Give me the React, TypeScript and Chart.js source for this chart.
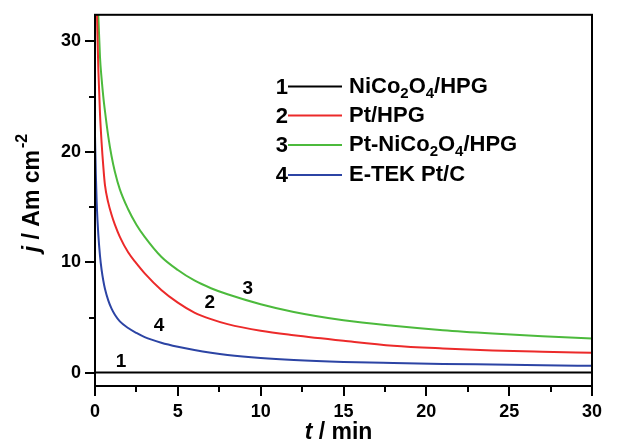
import React, { useEffect, useRef } from "react";
import { Chart, registerables } from "chart.js";

Chart.register(...registerables);

// ---- data ----
const timeMin = [0, 0.05, 0.1, 0.15, 0.2, 0.3, 0.4, 0.5, 0.6, 0.8, 1.0, 1.2, 1.5, 2, 2.5, 3, 4, 5, 6, 7, 8, 10, 12, 15, 18, 21, 24, 27, 30];
const niCo2O4HPG = [0.03, 0.03, 0.03, 0.03, 0.03, 0.03, 0.03, 0.03, 0.03, 0.03, 0.03, 0.03, 0.03, 0.03, 0.03, 0.03, 0.03, 0.03, 0.03, 0.03, 0.03, 0.03, 0.03, 0.03, 0.03, 0.03, 0.03, 0.03, 0.03];
const ptHPG = [48, 40, 34, 30.5, 27.5, 23.5, 20.8, 18.7, 17.0, 15.4, 14.3, 13.4, 12.3, 10.9, 9.9, 9.0, 7.5, 6.35, 5.45, 4.85, 4.4, 3.8, 3.4, 2.9, 2.45, 2.2, 2.02, 1.9, 1.8];
const ptNiCo2O4HPG = [52, 44, 38, 34.8, 32.3, 28.6, 26.6, 25.0, 23.7, 21.4, 19.6, 18.2, 16.6, 14.8, 13.4, 12.3, 10.5, 9.3, 8.35, 7.65, 7.1, 6.2, 5.5, 4.75, 4.25, 3.85, 3.55, 3.3, 3.1];
const etekPtC = [21.5, 18.0, 15.5, 13.8, 12.5, 10.6, 9.3, 8.35, 7.6, 6.55, 5.8, 5.25, 4.65, 4.05, 3.6, 3.22, 2.72, 2.35, 2.05, 1.8, 1.6, 1.33, 1.15, 0.98, 0.88, 0.8, 0.74, 0.68, 0.63];

const seriesLabels = ["NiCo2O4/HPG", "Pt/HPG", "Pt-NiCo2O4/HPG", "E-TEK Pt/C"];
const seriesNumbers = ["1", "2", "3", "4"];
const seriesColors = ["#000000", "#ec2a2a", "#4cba3c", "#2c44a4"];

const xMajorTicks = [0, 5, 10, 15, 20, 25, 30];
const xMinorTicks = [2.5, 7.5, 12.5, 17.5, 22.5, 27.5];
const yMajorTicks = [0, 10, 20, 30];
const yMinorTicks = [5, 15, 25];

// curve number annotations (data units)
const curveLabelT = [1.57, 6.93, 9.22, 3.86];
const curveLabelJ = [0.99, 6.29, 7.64, 4.22];

const FONT = "'Liberation Sans', Arial, Helvetica, sans-serif";

function drawRich(ctx: CanvasRenderingContext2D, text: string, x: number, y: number, size: number) {
  // digits following a letter are drawn as subscripts
  let cx = x;
  for (let i = 0; i < text.length; i++) {
    const ch = text[i];
    const isSub = /[0-9]/.test(ch) && i > 0 && /[A-Za-z]/.test(text[i - 1]);
    if (isSub) {
      ctx.font = `bold ${Math.round(size * 0.68)}px ${FONT}`;
      ctx.fillText(ch, cx, y + size * 0.33);
    } else {
      ctx.font = `bold ${size}px ${FONT}`;
      ctx.fillText(ch, cx, y);
    }
    cx += ctx.measureText(ch).width;
  }
}

const decorPlugin = {
  id: "decor",
  afterDraw(chart: any) {
    const ctx: CanvasRenderingContext2D = chart.ctx;
    const { left, right, top, bottom } = chart.chartArea;
    const xs = chart.scales.x;
    const ys = chart.scales.y;
    ctx.save();
    // frame
    ctx.strokeStyle = "#000";
    ctx.lineWidth = 2;
    ctx.strokeRect(left, top, right - left, bottom - top);
    // major and minor ticks
    ctx.beginPath();
    xMajorTicks.forEach((v) => {
      const px = Math.round(xs.getPixelForValue(v));
      ctx.moveTo(px, bottom);
      ctx.lineTo(px, bottom + 10);
    });
    xMinorTicks.forEach((v) => {
      const px = Math.round(xs.getPixelForValue(v));
      ctx.moveTo(px, bottom);
      ctx.lineTo(px, bottom + 6);
    });
    yMajorTicks.forEach((v) => {
      const py = Math.round(ys.getPixelForValue(v));
      ctx.moveTo(left, py);
      ctx.lineTo(left - 10, py);
    });
    yMinorTicks.forEach((v) => {
      const py = Math.round(ys.getPixelForValue(v));
      ctx.moveTo(left, py);
      ctx.lineTo(left - 6, py);
    });
    ctx.stroke();

    ctx.fillStyle = "#000";
    // x title
    ctx.textBaseline = "middle";
    ctx.textAlign = "left";
    const tSize = 23;
    ctx.font = `italic bold ${tSize}px ${FONT}`;
    const w1 = ctx.measureText("t").width;
    ctx.font = `bold ${tSize}px ${FONT}`;
    const w2 = ctx.measureText(" / min").width;
    const sx = (left + right) / 2 - 5 - (w1 + w2) / 2;
    const ty = 433;
    ctx.font = `italic bold ${tSize}px ${FONT}`;
    ctx.fillText("t", sx, ty);
    ctx.font = `bold ${tSize}px ${FONT}`;
    ctx.fillText(" / min", sx + w1, ty);

    // y title
    ctx.save();
    ctx.translate(33, 193);
    ctx.rotate(-Math.PI / 2);
    ctx.font = `italic bold ${tSize}px ${FONT}`;
    const a1 = ctx.measureText("j").width;
    ctx.font = `bold ${tSize}px ${FONT}`;
    const a2 = ctx.measureText(" / Am cm").width;
    ctx.font = `bold 16px ${FONT}`;
    const a3 = ctx.measureText("-2").width + 2;
    const yx = -(a1 + a2 + a3) / 2;
    ctx.font = `italic bold ${tSize}px ${FONT}`;
    ctx.fillText("j", yx, 0);
    ctx.font = `bold ${tSize}px ${FONT}`;
    ctx.fillText(" / Am cm", yx + a1, 0);
    ctx.font = `bold 16px ${FONT}`;
    ctx.fillText("-2", yx + a1 + a2 + 2, -10);
    ctx.restore();

    // legend
    const rows = [86.5, 115.5, 145, 175];
    seriesLabels.forEach((lab, i) => {
      const y = rows[i];
      ctx.font = `bold 22px ${FONT}`;
      ctx.textAlign = "right";
      ctx.textBaseline = "middle";
      ctx.fillText(seriesNumbers[i], 288, y + 1);
      ctx.strokeStyle = seriesColors[i];
      ctx.lineWidth = 2;
      ctx.beginPath();
      ctx.moveTo(288, y);
      ctx.lineTo(342, y);
      ctx.stroke();
      ctx.textAlign = "left";
      drawRich(ctx, lab, 349, y, 22);
    });

    // curve number labels
    ctx.font = `bold 19px ${FONT}`;
    ctx.textAlign = "center";
    ctx.textBaseline = "middle";
    curveLabelT.forEach((t, i) => {
      ctx.fillText(seriesNumbers[i], xs.getPixelForValue(t), ys.getPixelForValue(curveLabelJ[i]));
    });
    ctx.restore();
  },
};

export default function App() {
  const ref = useRef<HTMLCanvasElement | null>(null);
  useEffect(() => {
    const allSeries = [niCo2O4HPG, ptHPG, ptNiCo2O4HPG, etekPtC];
    const chart = new Chart(ref.current as HTMLCanvasElement, {
      type: "line",
      data: {
        datasets: allSeries.map((arr, i) => ({
          label: seriesLabels[i],
          data: timeMin.map((t, k) => ({ x: t, y: arr[k] })),
          borderColor: seriesColors[i],
          backgroundColor: seriesColors[i],
          borderWidth: 2,
          pointRadius: 0,
          fill: false,
          cubicInterpolationMode: "monotone",
        })),
      },
      options: {
        animation: false,
        responsive: false,
        devicePixelRatio: 1,
        layout: { padding: { top: 11, right: 38, left: 0, bottom: 0 } },
        plugins: {
          legend: { display: false },
          tooltip: { enabled: false },
          title: { display: false },
        },
        scales: {
          x: {
            type: "linear",
            min: 0,
            max: 30,
            afterBuildTicks: (s: any) => {
              s.ticks = xMajorTicks.map((v) => ({ value: v }));
            },
            afterFit: (s: any) => {
              s.height = 59;
            },
            grid: { drawOnChartArea: false, drawTicks: true, tickLength: 10, color: "#000", lineWidth: 2 },
            border: { display: true, color: "#000", width: 2 },
            ticks: {
              color: "#000",
              font: { family: FONT, size: 18, weight: "bold" },
              padding: 5,
              maxRotation: 0,
              autoSkip: false,
            },
          },
          y: {
            type: "linear",
            min: -1.2,
            max: 32.4,
            afterBuildTicks: (s: any) => {
              s.ticks = yMajorTicks.map((v) => ({ value: v }));
            },
            afterFit: (s: any) => {
              s.width = 95;
            },
            grid: { drawOnChartArea: false, drawTicks: true, tickLength: 10, color: "#000", lineWidth: 2 },
            border: { display: true, color: "#000", width: 2 },
            ticks: {
              color: "#000",
              font: { family: FONT, size: 18, weight: "bold" },
              padding: 4,
              autoSkip: false,
            },
          },
        },
      } as any,
      plugins: [decorPlugin],
    } as any);
    return () => chart.destroy();
  }, []);
  return (
    <div style={{ position: "fixed", left: 0, top: 0, width: 630, height: 445, background: "#fff" }}>
      <canvas ref={ref} width={630} height={445} style={{ display: "block", width: 630, height: 445 }} />
    </div>
  );
}
